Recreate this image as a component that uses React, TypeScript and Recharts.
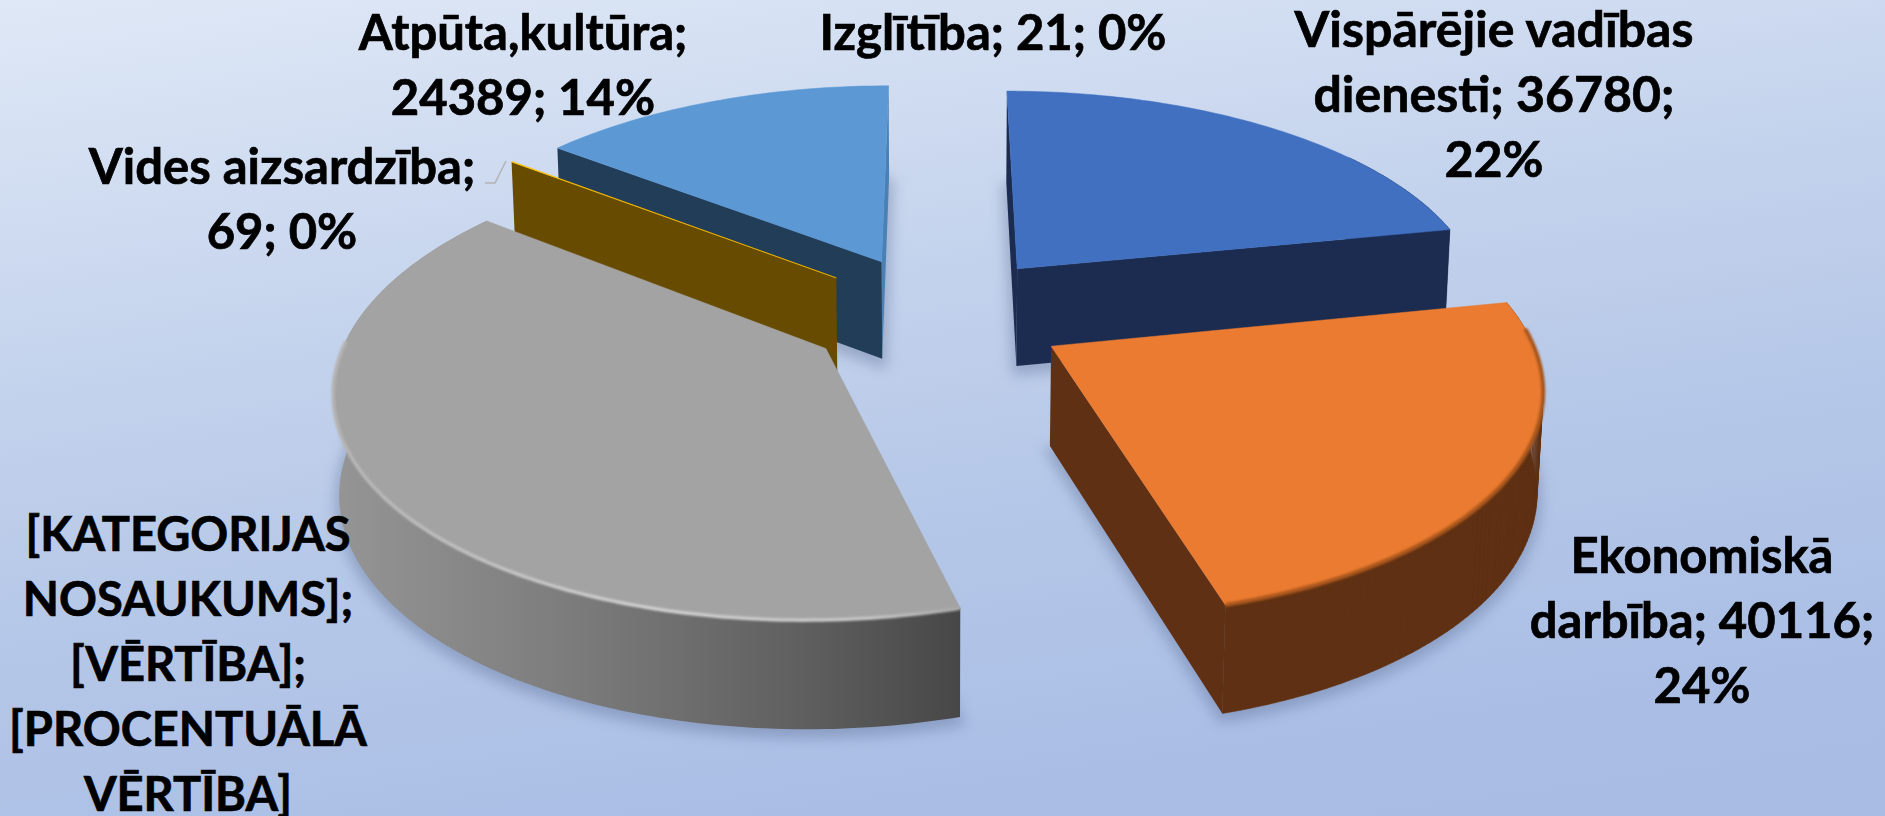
import { Pie, PieChart } from "recharts";

// slices run counter-clockwise from the end of the first one, so the paint order is back to front
const categories = [
  "Vispārējie vadības dienesti",
  "Izglītība",
  "Atpūta,kultūra",
  "Vides aizsardzība",
  "[KATEGORIJAS NOSAUKUMS]",
  "Ekonomiskā darbība",
];
const values = [36780, 21, 24389, 69, 67125, 40116];
const labelLines = [
  ["Vispārējie vadības", "dienesti; 36780;", "22%"],
  ["Izglītība; 21; 0%"],
  ["Atpūta,kultūra;", "24389; 14%"],
  ["Vides aizsardzība;", "69; 0%"],
  ["[KATEGORIJAS", "NOSAUKUMS];", "[VĒRTĪBA];", "[PROCENTUĀLĀ", "VĒRTĪBA]"],
  ["Ekonomiskā", "darbība; 40116;", "24%"],
];
const topFills = ["#4170c0", "#70ad47", "#5b98d4", "#ffc000", "#a3a3a3", "#ea7b30"];
const wallFills = ["#1b2c50", "#70ad47", "#223d57", "#664b00", "url(#grayWall)", "#5f3013"];
const sideFills = ["#1b2c50", "#70ad47", "#4a80b6", "#664b00", "#555555", "#5f3013"];

const labelSpots = [
  { x: 1494, y: 47, size: 50 },
  { x: 993, y: 50, size: 49 },
  { x: 523, y: 50, size: 49 },
  { x: 282, y: 184, size: 49 },
  { x: 188, y: 551, size: 47 },
  { x: 1702, y: 573, size: 49 },
];

const chartData = categories.map((name, i) => ({ name, value: values[i] }));

const CX = 937;
const CY = 314;
const RADIUS = 472;
const EXPLODE = 0.277;
const HORIZON = 1100;
const DEPTH = 1.09e-4;
const LINE_HEIGHT = 65;

type Pt = { x: number; y: number };

// flat pie coordinates (radius = 1, y going back) to the tilted view
function project(xn: number, yn: number): Pt {
  const w0 = CY + HORIZON;
  const w = 1 / (1 / w0 + DEPTH * yn);
  return { x: CX + (xn * RADIUS * w) / w0, y: w - HORIZON };
}

function drop(p: Pt): Pt {
  const h = 97 + (p.y - 265) * 0.034;
  return { x: p.x - (p.x - CX) * 1e-4 * h, y: p.y + h };
}

const toPath = (pts: Pt[], close = true) =>
  pts.map((p, i) => `${i ? "L" : "M"}${p.x.toFixed(1)} ${p.y.toFixed(1)}`).join("") + (close ? "Z" : "");

function Slice3D(props: any) {
  const { startAngle, endAngle, index } = props;
  const sweep = Math.abs(endAngle - startAngle);
  if (sweep < 0.1) return null; // the 21 slice does not show up at all

  const rad = Math.PI / 180;
  const mid = ((startAngle + endAngle) / 2) * rad;
  const ox = EXPLODE * Math.cos(mid);
  const oy = EXPLODE * Math.sin(mid);
  const steps = Math.max(2, Math.ceil(sweep));
  const arc: Pt[] = [];
  const rimQuads: string[] = [];
  for (let i = 0; i <= steps; i++) {
    const a = (startAngle + ((endAngle - startAngle) * i) / steps) * rad;
    arc.push(project(ox + Math.cos(a), oy + Math.sin(a)));
    // only the part of the rim that faces the viewer
    if (i > 0 && Math.sin(a) < 0.6) {
      const p = arc[i - 1];
      const q = arc[i];
      rimQuads.push(toPath([p, q, drop(q), drop(p)]));
    }
  }
  const apex = project(ox, oy);
  const first = arc[0];
  const last = arc[arc.length - 1];
  const top = [apex, ...arc];
  const floor = top.map(drop);
  const frontArc = arc.filter((p) => p.y > 340);
  const startFaces = -Math.cos(startAngle * rad) < 0.05;
  const endFaces = Math.cos(endAngle * rad) < 0.05;

  return (
    <g>
      <defs>
        <linearGradient id="grayWall" x1="0" y1="0" x2="1" y2="0">
          <stop offset="0" stopColor="#959595" />
          <stop offset="0.35" stopColor="#7e7e7e" />
          <stop offset="0.75" stopColor="#5f5f5f" />
          <stop offset="1" stopColor="#474747" />
        </linearGradient>
        <linearGradient id="grayBevel" x1="0" y1="0" x2="1" y2="0">
          <stop offset="0" stopColor="#b5b5b5" />
          <stop offset="0.5" stopColor="#cfcfcf" />
          <stop offset="0.85" stopColor="#c4c4c4" />
          <stop offset="1" stopColor="#a8a8a8" />
        </linearGradient>
        <filter id={`shadow-${index}`} filterUnits="userSpaceOnUse" x="0" y="0" width="1885" height="816">
          <feGaussianBlur stdDeviation="7" />
        </filter>
        <filter id={`soft-${index}`} filterUnits="userSpaceOnUse" x="0" y="0" width="1885" height="816">
          <feGaussianBlur stdDeviation="1" />
        </filter>
      </defs>
      {sweep > 5 && (
        <path
          d={toPath(floor)}
          transform="translate(0 5)"
          fill="#52658c"
          stroke="#52658c"
          strokeWidth={8}
          opacity={0.38}
          filter={`url(#shadow-${index})`}
        />
      )}
      {rimQuads.length > 0 && <path d={rimQuads.join("")} fill={wallFills[index]} stroke={index === 4 ? "none" : wallFills[index]} strokeWidth={0.5} />}
      {startFaces && <path d={toPath([apex, first, drop(first), drop(apex)])} fill={sideFills[index]} />}
      {endFaces && <path d={toPath([apex, last, drop(last), drop(apex)])} fill={wallFills[index]} />}
      <path d={toPath(top)} fill={topFills[index]} stroke={topFills[index]} strokeWidth={sweep > 5 ? 0.5 : 0.6} />
      {index === 4 && (
        <path
          d={toPath(frontArc, false)}
          fill="none"
          stroke="url(#grayBevel)"
          strokeWidth={3.5}
          filter={`url(#soft-${index})`}
        />
      )}
      {index === 5 && (
        <path
          d={toPath(arc.filter((p) => p.y > 325), false)}
          fill="none"
          stroke="#a9561f"
          strokeWidth={4}
          filter={`url(#soft-${index})`}
        />
      )}
    </g>
  );
}

function SliceLabel(props: any) {
  const { index } = props;
  const lines = labelLines[index];
  const spot = labelSpots[index];
  return (
    <g>
      <text
        textAnchor="middle"
        fontFamily="Lato, sans-serif"
        fontWeight={700}
        fontSize={spot.size}
        fill="#000000"
        stroke="#000000"
        strokeWidth={0.7}
      >
        {lines.map((line, i) => (
          <tspan key={line} x={spot.x} y={spot.y + i * LINE_HEIGHT}>
            {line}
          </tspan>
        ))}
      </text>
      {index === 3 && (
        <polyline points="485,183 495,183 506,161" fill="none" stroke="#b3b3b3" strokeWidth={1.5} />
      )}
    </g>
  );
}

export default function App() {
  return (
    <div
      style={{
        position: "absolute",
        left: 0,
        top: 0,
        width: 1885,
        height: 816,
        overflow: "hidden",
        background:
          "linear-gradient(172deg, #dfe8f6 0%, #c8d6ee 30%, #b6c8e8 58%, #a9bde5 88%, #a9bde4 100%)",
      }}
    >
      <PieChart width={1885} height={816} margin={{ top: 0, right: 0, bottom: 0, left: 0 }}>
        <Pie
          data={chartData}
          dataKey="value"
          nameKey="name"
          cx={CX}
          cy={CY}
          outerRadius={RADIUS}
          startAngle={11.4}
          endAngle={371.4}
          stroke="none"
          shape={Slice3D}
          label={SliceLabel}
          labelLine={false}
          isAnimationActive={false}
        />
      </PieChart>
    </div>
  );
}
